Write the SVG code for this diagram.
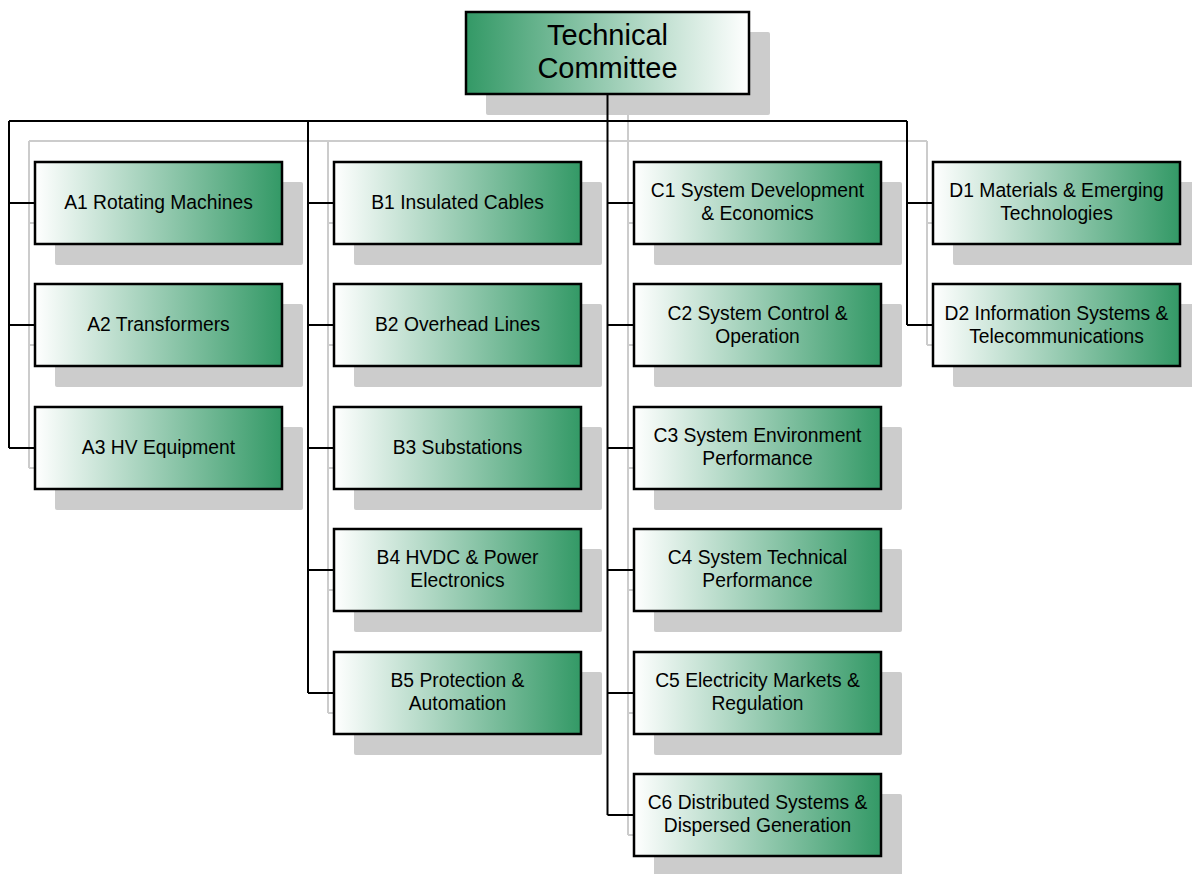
<svg xmlns="http://www.w3.org/2000/svg" width="1192" height="874" viewBox="0 0 1192 874">
  <defs>
    <linearGradient id="gChild" x1="0" y1="0" x2="1" y2="0">
      <stop offset="0" stop-color="#ffffff"/>
      <stop offset="0.5" stop-color="#99ccb3"/>
      <stop offset="1" stop-color="#339966"/>
    </linearGradient>
    <linearGradient id="gRoot" x1="0" y1="0" x2="1" y2="0">
      <stop offset="0" stop-color="#339966"/>
      <stop offset="0.5" stop-color="#99ccb3"/>
      <stop offset="1" stop-color="#ffffff"/>
    </linearGradient>
  </defs>
  <style>
    .shadow { fill: #cccccc; }
    .box { fill: url(#gChild); stroke: #000000; stroke-width: 2.5; }
    .root { fill: url(#gRoot); stroke: #000000; stroke-width: 2.5; }
    .wire { fill: none; stroke: #000000; stroke-width: 2; }
    .wire-shadow { fill: none; stroke: #cccccc; stroke-width: 2; }
    .label { font-family: "Liberation Sans", Arial, sans-serif; font-size: 19.3px; fill: #000000; text-anchor: middle; }
    .title { font-family: "Liberation Sans", Arial, sans-serif; font-size: 29px; fill: #000000; text-anchor: middle; }
  </style>

  <!-- connector shadows -->
  <g id="connector-shadows" class="wire-shadow">
    <path d="M29,141 H927"/>
    <path d="M29,141 V468 M29,223 H55 M29,345 H55 M29,468 H55"/>
    <path d="M328,141 V713 M328,223 H354 M328,345 H354 M328,468 H354 M328,590 H354 M328,713 H354"/>
    <path d="M628,114 V835 M628,223 H654 M628,345 H654 M628,468 H654 M628,590 H654 M628,713 H654 M628,835 H654"/>
    <path d="M927,141 V345 M927,223 H953 M927,345 H953"/>
  </g>

  <!-- box shadows -->
  <g id="box-shadows" class="shadow">
    <rect x="486" y="32" width="284" height="83" rx="2"/>
    <rect x="55" y="182" width="248" height="83" rx="2"/>
    <rect x="55" y="304" width="248" height="83" rx="2"/>
    <rect x="55" y="427" width="248" height="83" rx="2"/>
    <rect x="354" y="182" width="248" height="83" rx="2"/>
    <rect x="354" y="304" width="248" height="83" rx="2"/>
    <rect x="354" y="427" width="248" height="83" rx="2"/>
    <rect x="354" y="549" width="248" height="83" rx="2"/>
    <rect x="354" y="672" width="248" height="83" rx="2"/>
    <rect x="654" y="182" width="248" height="83" rx="2"/>
    <rect x="654" y="304" width="248" height="83" rx="2"/>
    <rect x="654" y="427" width="248" height="83" rx="2"/>
    <rect x="654" y="549" width="248" height="83" rx="2"/>
    <rect x="654" y="672" width="248" height="83" rx="2"/>
    <rect x="654" y="794" width="248" height="83" rx="2"/>
    <rect x="953" y="182" width="248" height="83" rx="2"/>
    <rect x="953" y="304" width="248" height="83" rx="2"/>
  </g>

  <!-- connectors -->
  <g id="connectors" class="wire">
    <path d="M607.5,94 V815 M9,121 H907"/>
    <path d="M9,121 V448 M9,203 H35 M9,325 H35 M9,448 H35"/>
    <path d="M308,121 V693 M308,203 H334 M308,325 H334 M308,448 H334 M308,570 H334 M308,693 H334"/>
    <path d="M607.5,203 H634 M607.5,325 H634 M607.5,448 H634 M607.5,570 H634 M607.5,693 H634 M607.5,815 H634"/>
    <path d="M907,121 V325 M907,203 H933 M907,325 H933"/>
  </g>

  <g id="tc">
    <rect class="root" x="466" y="12" width="283" height="82"/>
    <text class="title" x="607.5" y="45">Technical</text>
    <text class="title" x="607.5" y="78">Committee</text>
  </g>

  <g id="a1">
    <rect class="box" x="35" y="162" width="247" height="82"/>
    <text class="label" x="158.5" y="209">A1 Rotating Machines</text>
  </g>
  <g id="a2">
    <rect class="box" x="35" y="284" width="247" height="82"/>
    <text class="label" x="158.5" y="331">A2 Transformers</text>
  </g>
  <g id="a3">
    <rect class="box" x="35" y="407" width="247" height="82"/>
    <text class="label" x="158.5" y="454">A3 HV Equipment</text>
  </g>

  <g id="b1">
    <rect class="box" x="334" y="162" width="247" height="82"/>
    <text class="label" x="457.5" y="209">B1 Insulated Cables</text>
  </g>
  <g id="b2">
    <rect class="box" x="334" y="284" width="247" height="82"/>
    <text class="label" x="457.5" y="331">B2 Overhead Lines</text>
  </g>
  <g id="b3">
    <rect class="box" x="334" y="407" width="247" height="82"/>
    <text class="label" x="457.5" y="454">B3 Substations</text>
  </g>
  <g id="b4">
    <rect class="box" x="334" y="529" width="247" height="82"/>
    <text class="label" x="457.5" y="564">B4 HVDC &amp; Power</text>
    <text class="label" x="457.5" y="587">Electronics</text>
  </g>
  <g id="b5">
    <rect class="box" x="334" y="652" width="247" height="82"/>
    <text class="label" x="457.5" y="686.5">B5 Protection &amp;</text>
    <text class="label" x="457.5" y="709.5">Automation</text>
  </g>

  <g id="c1">
    <rect class="box" x="634" y="162" width="247" height="82"/>
    <text class="label" x="757.5" y="197">C1 System Development</text>
    <text class="label" x="757.5" y="220">&amp; Economics</text>
  </g>
  <g id="c2">
    <rect class="box" x="634" y="284" width="247" height="82"/>
    <text class="label" x="757.5" y="319.5">C2 System Control &amp;</text>
    <text class="label" x="757.5" y="342.5">Operation</text>
  </g>
  <g id="c3">
    <rect class="box" x="634" y="407" width="247" height="82"/>
    <text class="label" x="757.5" y="442">C3 System Environment</text>
    <text class="label" x="757.5" y="465">Performance</text>
  </g>
  <g id="c4">
    <rect class="box" x="634" y="529" width="247" height="82"/>
    <text class="label" x="757.5" y="564">C4 System Technical</text>
    <text class="label" x="757.5" y="587">Performance</text>
  </g>
  <g id="c5">
    <rect class="box" x="634" y="652" width="247" height="82"/>
    <text class="label" x="757.5" y="686.5">C5 Electricity Markets &amp;</text>
    <text class="label" x="757.5" y="709.5">Regulation</text>
  </g>
  <g id="c6">
    <rect class="box" x="634" y="774" width="247" height="82"/>
    <text class="label" x="757.5" y="809">C6 Distributed Systems &amp;</text>
    <text class="label" x="757.5" y="832">Dispersed Generation</text>
  </g>

  <g id="d1">
    <rect class="box" x="933" y="162" width="247" height="82"/>
    <text class="label" x="1056.5" y="197">D1 Materials &amp; Emerging</text>
    <text class="label" x="1056.5" y="220">Technologies</text>
  </g>
  <g id="d2">
    <rect class="box" x="933" y="284" width="247" height="82"/>
    <text class="label" x="1056.5" y="319.5">D2 Information Systems &amp;</text>
    <text class="label" x="1056.5" y="342.5">Telecommunications</text>
  </g>
</svg>
